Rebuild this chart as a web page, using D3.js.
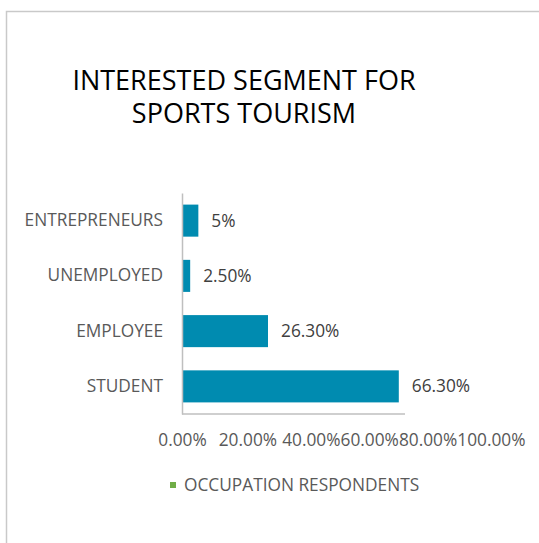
<!DOCTYPE html>
<html>
<head>
<meta charset="utf-8">
<script src="https://cdn.jsdelivr.net/npm/d3@7"></script>
<style>
  html, body { margin: 0; padding: 0; background: #fff; }
  svg { display: block; font-family: "Open Sans", "Liberation Sans", sans-serif; }
</style>
</head>
<body>
<svg id="chart" width="539" height="543"></svg>
<script>
// Occupation of respondents interested in sports tourism (share of respondents)
const categories = ["ENTREPRENEURS", "UNEMPLOYED", "EMPLOYEE", "STUDENT"];
const values = [0.05, 0.025, 0.263, 0.663];
const valueLabels = ["5%", "2.50%", "26.30%", "66.30%"];
const tickValues = [0, 0.2, 0.4, 0.6, 0.8, 1.0];
const titleLines = ["INTERESTED SEGMENT FOR", "SPORTS TOURISM"];
const seriesName = "OCCUPATION RESPONDENTS";

const svg = d3.select("#chart");
const labelSize = "17.3px";

// chart frame (continues past the visible area on the right and bottom)
svg.append("rect")
  .attr("x", 6.5).attr("y", 11.5)
  .attr("width", 700).attr("height", 700)
  .attr("fill", "#fff")
  .attr("stroke", "#c9c9c9").attr("stroke-width", 1.5);

// title
const title = svg.append("text")
  .attr("text-anchor", "middle")
  .attr("fill", "#000")
  .style("font-size", "27px");
titleLines.forEach((line, i) => {
  title.append("tspan")
    .attr("x", 244)
    .attr("y", 90 + i * 33)
    .text(line);
});

const plot = { left: 182, top: 193, bottom: 414, axisEnd: 405, labelLimit: 525 };

const x = d3.scaleLinear().domain([0, 1]).range([plot.left, plot.left + 327]);
const y = d3.scaleBand()
  .domain(categories)
  .range([plot.top, plot.bottom])
  .paddingInner(0.42)
  .paddingOuter(0.21);

// bars
svg.append("g").selectAll("rect")
  .data(categories)
  .join("rect")
  .attr("x", x(0))
  .attr("y", d => y(d))
  .attr("width", (d, i) => x(values[i]) - x(0))
  .attr("height", y.bandwidth())
  .attr("fill", "#008BB0");

// value labels
svg.append("g").selectAll("text")
  .data(categories)
  .join("text")
  .attr("x", (d, i) => x(values[i]) + 13)
  .attr("y", d => y(d) + y.bandwidth() / 2)
  .attr("dy", "0.35em")
  .attr("fill", "#404040")
  .style("font-size", labelSize)
  .text((d, i) => valueLabels[i]);

// category axis
const yAxis = svg.append("g")
  .attr("transform", `translate(${plot.left},0)`)
  .call(d3.axisLeft(y).tickSize(0).tickPadding(19));
yAxis.select(".domain").attr("stroke", "#bfbfbf").attr("stroke-width", 1.5);
yAxis.selectAll("text").attr("fill", "#595959").style("font-size", labelSize)
  .style("font-family", "\"Open Sans\", sans-serif");

// value axis line
svg.append("line")
  .attr("x1", plot.left).attr("x2", plot.axisEnd)
  .attr("y1", plot.bottom).attr("y2", plot.bottom)
  .attr("stroke", "#bfbfbf").attr("stroke-width", 1.5);

// value axis labels
const xAxis = svg.append("g")
  .attr("transform", `translate(0,${plot.bottom})`)
  .call(d3.axisBottom(x).tickValues(tickValues).tickSize(0).tickPadding(20)
    .tickFormat(d3.format(".2%")));
xAxis.select(".domain").remove();
xAxis.selectAll("text")
  .attr("fill", "#595959").style("font-size", labelSize)
  .style("font-family", "\"Open Sans\", sans-serif");

// keep labels inside the frame: shift from the right so none overlap
const ticks = xAxis.selectAll(".tick").nodes();
let limit = plot.labelLimit;
for (let i = ticks.length - 1; i >= 0; i--) {
  const txt = d3.select(ticks[i]).select("text");
  const w = txt.node().getComputedTextLength();
  const cx = x(tickValues[i]);
  let right = cx + w / 2;
  if (right > limit) {
    txt.attr("x", limit - w / 2 - cx);
    right = limit;
  }
  limit = right - w;
}

// legend
const legend = svg.append("g");
legend.append("rect")
  .attr("x", 170).attr("y", 482)
  .attr("width", 6).attr("height", 6)
  .attr("fill", "#70AD47");
legend.append("text")
  .attr("x", 184).attr("y", 485)
  .attr("dy", "0.35em")
  .attr("fill", "#595959")
  .style("font-size", labelSize)
  .text(seriesName);
</script>
</body>
</html>
